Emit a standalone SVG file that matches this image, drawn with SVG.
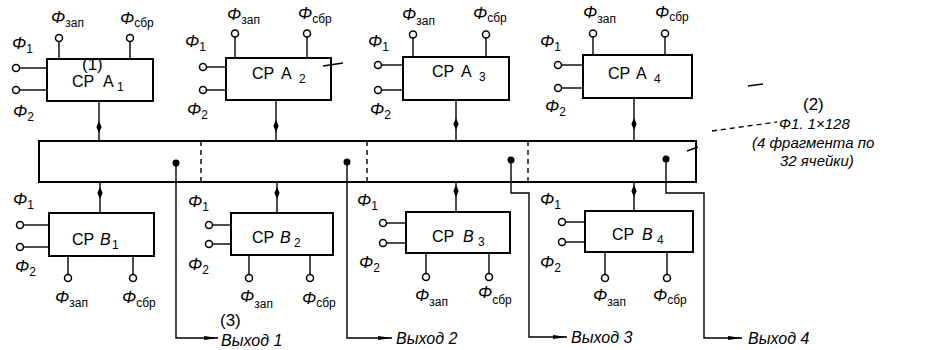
<svg xmlns="http://www.w3.org/2000/svg" xmlns:xlink="http://www.w3.org/1999/xlink" width="951" height="350" viewBox="0 0 951 350">
<style>
.box{fill:#fff;stroke:#000;stroke-width:2}
.w{fill:none;stroke:#000;stroke-width:1.4}
.dash{fill:none;stroke:#000;stroke-width:1.4;stroke-dasharray:5,4}
.pin{fill:#fff;stroke:#000;stroke-width:1.5}
.dot{fill:#000}
text{font-family:"Liberation Sans","DejaVu Sans",sans-serif;fill:#000}
.lb{font-size:17px;font-style:italic}
.lt{font-size:16px;font-style:italic}
.sb{font-size:12px;font-style:normal}
.bx{font-size:16px}
.nt{font-size:15px;font-style:italic}
.num{font-size:17px}
</style>
<defs>
<path id="dm" d="M0,-6 L2.6,0 L0,6 L-2.6,0 z" fill="#000"/>
<marker id="ar" markerUnits="userSpaceOnUse" markerWidth="16" markerHeight="8" refX="14" refY="3" orient="auto">
<path d="M0,1 L14,3 L0,5 z" fill="#000"/>
</marker>
</defs>

<g id="bus">
<rect class="box" x="39" y="141" width="657" height="41"/>
<line class="dash" x1="201" y1="141" x2="201" y2="182"/>
<line class="dash" x1="367" y1="141" x2="367" y2="182"/>
<line class="dash" x1="528" y1="141" x2="528" y2="182"/>
<line class="w" x1="687" y1="151" x2="698" y2="147"/>
</g>

<g id="A1">
<rect class="box" x="47" y="59" width="106" height="42"/>
<text class="bx" x="72" y="87">СР<tspan x="103">А</tspan><tspan class="sb" x="117" dy="4">1</tspan></text>
<line class="w" x1="19.5" y1="68" x2="47" y2="68"/><circle class="pin" cx="16" cy="68" r="3.5"/>
<line class="w" x1="19.5" y1="90" x2="47" y2="90"/><circle class="pin" cx="16" cy="90" r="3.5"/>
<line class="w" x1="59" y1="41.5" x2="59" y2="59"/><circle class="pin" cx="59" cy="38" r="3.5"/>
<line class="w" x1="130" y1="41.5" x2="130" y2="59"/><circle class="pin" cx="130" cy="38" r="3.5"/>
<text class="lb" x="12" y="49">Φ<tspan class="sb" dy="4">1</tspan></text>
<text class="lb" x="13" y="117">Φ<tspan class="sb" dy="4">2</tspan></text>
<text class="lb" x="51" y="23">Φ<tspan class="sb" dy="4">зап</tspan></text>
<text class="lb" x="120" y="24">Φ<tspan class="sb" dy="3">сбр</tspan></text>
<text class="num" x="82" y="70">(1)</text>
</g>

<g id="A2">
<rect class="box" x="226" y="58" width="105" height="42"/>
<text class="bx" x="252" y="79">СР<tspan x="281">А</tspan><tspan class="sb" x="299" dy="4">2</tspan></text>
<line class="w" x1="206.5" y1="67" x2="226" y2="67"/><circle class="pin" cx="203" cy="67" r="3.5"/>
<line class="w" x1="206.5" y1="90" x2="226" y2="90"/><circle class="pin" cx="203" cy="90" r="3.5"/>
<line class="w" x1="235" y1="37" x2="235" y2="58"/><circle class="pin" cx="235" cy="33.5" r="3.5"/>
<line class="w" x1="307" y1="37" x2="307" y2="58"/><circle class="pin" cx="307" cy="33.5" r="3.5"/>
<line class="w" x1="323" y1="66" x2="343" y2="63"/>
<text class="lb" x="185" y="47">Φ<tspan class="sb" dy="4">1</tspan></text>
<text class="lb" x="187" y="115">Φ<tspan class="sb" dy="4">2</tspan></text>
<text class="lb" x="227" y="20">Φ<tspan class="sb" dy="4">зап</tspan></text>
<text class="lb" x="298" y="19">Φ<tspan class="sb" dy="4">сбр</tspan></text>
</g>

<g id="A3">
<rect class="box" x="403" y="57" width="106" height="43"/>
<text class="bx" x="432" y="77">СР<tspan x="461">А</tspan><tspan class="sb" x="479" dy="4">3</tspan></text>
<line class="w" x1="381.5" y1="65" x2="403" y2="65"/><circle class="pin" cx="378" cy="65" r="3.5"/>
<line class="w" x1="381.5" y1="90" x2="403" y2="90"/><circle class="pin" cx="378" cy="90" r="3.5"/>
<line class="w" x1="413" y1="38" x2="413" y2="57"/><circle class="pin" cx="413" cy="34.5" r="3.5"/>
<line class="w" x1="486" y1="38" x2="486" y2="57"/><circle class="pin" cx="486" cy="34.5" r="3.5"/>
<text class="lb" x="368" y="47">Φ<tspan class="sb" dy="4">1</tspan></text>
<text class="lb" x="370" y="115">Φ<tspan class="sb" dy="4">2</tspan></text>
<text class="lb" x="402" y="20">Φ<tspan class="sb" dy="5">зап</tspan></text>
<text class="lb" x="473" y="19">Φ<tspan class="sb" dy="3">сбр</tspan></text>
</g>

<g id="A4">
<rect class="box" x="583" y="55" width="109" height="43"/>
<text class="bx" x="608" y="79">СР<tspan x="636">А</tspan><tspan class="sb" x="654" dy="4">4</tspan></text>
<line class="w" x1="561.5" y1="65" x2="583" y2="65"/><circle class="pin" cx="558" cy="65" r="3.5"/>
<line class="w" x1="561.5" y1="88" x2="583" y2="88"/><circle class="pin" cx="558" cy="88" r="3.5"/>
<line class="w" x1="593" y1="37" x2="593" y2="55"/><circle class="pin" cx="593" cy="33.5" r="3.5"/>
<line class="w" x1="665" y1="37" x2="665" y2="55"/><circle class="pin" cx="665" cy="33.5" r="3.5"/>
<line class="w" x1="748" y1="86" x2="763" y2="84"/>
<text class="lb" x="540" y="47">Φ<tspan class="sb" dy="4">1</tspan></text>
<text class="lb" x="545" y="112">Φ<tspan class="sb" dy="4">2</tspan></text>
<text class="lb" x="583" y="18">Φ<tspan class="sb" dy="5">зап</tspan></text>
<text class="lb" x="655" y="18">Φ<tspan class="sb" dy="3">сбр</tspan></text>
</g>

<g id="B1">
<rect class="box" x="49" y="213" width="105" height="43"/>
<text class="bx" x="72" y="245">СР<tspan x="100" font-style="italic">В</tspan><tspan class="sb" x="112" dy="4">1</tspan></text>
<line class="w" x1="23.5" y1="225" x2="49" y2="225"/><circle class="pin" cx="20" cy="225" r="3.5"/>
<line class="w" x1="23.5" y1="247" x2="49" y2="247"/><circle class="pin" cx="20" cy="247" r="3.5"/>
<line class="w" x1="68" y1="256" x2="68" y2="274.5"/><circle class="pin" cx="68" cy="278" r="3.5"/>
<line class="w" x1="133" y1="256" x2="133" y2="274.5"/><circle class="pin" cx="133" cy="278" r="3.5"/>
<text class="lb" x="13" y="205">Φ<tspan class="sb" dy="4">1</tspan></text>
<text class="lb" x="15" y="272">Φ<tspan class="sb" dy="4">2</tspan></text>
<text class="lb" x="55" y="303">Φ<tspan class="sb" dy="4">зап</tspan></text>
<text class="lb" x="122" y="303">Φ<tspan class="sb" dy="4">сбр</tspan></text>
</g>

<g id="B2">
<rect class="box" x="231" y="213" width="102" height="42"/>
<text class="bx" x="252" y="243">СР<tspan x="280" font-style="italic">В</tspan><tspan class="sb" x="294" dy="4">2</tspan></text>
<line class="w" x1="212.5" y1="225" x2="231" y2="225"/><circle class="pin" cx="209" cy="225" r="3.5"/>
<line class="w" x1="212.5" y1="244" x2="231" y2="244"/><circle class="pin" cx="209" cy="244" r="3.5"/>
<line class="w" x1="249" y1="255" x2="249" y2="274.5"/><circle class="pin" cx="249" cy="278" r="3.5"/>
<line class="w" x1="310" y1="255" x2="310" y2="274.5"/><circle class="pin" cx="310" cy="278" r="3.5"/>
<text class="lb" x="188" y="207">Φ<tspan class="sb" dy="4">1</tspan></text>
<text class="lb" x="188" y="270">Φ<tspan class="sb" dy="4">2</tspan></text>
<text class="lb" x="240" y="302">Φ<tspan class="sb" dy="6">зап</tspan></text>
<text class="lb" x="302" y="304">Φ<tspan class="sb" dy="3">сбр</tspan></text>
</g>

<g id="B3">
<rect class="box" x="406" y="212" width="104" height="41"/>
<text class="bx" x="432" y="242">СР<tspan x="463" font-style="italic">В</tspan><tspan class="sb" x="478" dy="4">3</tspan></text>
<line class="w" x1="386.5" y1="223" x2="406" y2="223"/><circle class="pin" cx="383" cy="223" r="3.5"/>
<line class="w" x1="386.5" y1="243" x2="406" y2="243"/><circle class="pin" cx="383" cy="243" r="3.5"/>
<line class="w" x1="426" y1="253" x2="426" y2="273.5"/><circle class="pin" cx="426" cy="277" r="3.5"/>
<line class="w" x1="489" y1="253" x2="489" y2="273.5"/><circle class="pin" cx="489" cy="277" r="3.5"/>
<text class="lb" x="357" y="206">Φ<tspan class="sb" dy="4">1</tspan></text>
<text class="lb" x="359" y="268">Φ<tspan class="sb" dy="4">2</tspan></text>
<text class="lb" x="415" y="301">Φ<tspan class="sb" dy="5">зап</tspan></text>
<text class="lb" x="478" y="298">Φ<tspan class="sb" dy="6">сбр</tspan></text>
</g>

<g id="B4">
<rect class="box" x="585" y="211" width="108" height="41"/>
<text class="bx" x="612" y="240">СР<tspan x="642" font-style="italic">В</tspan><tspan class="sb" x="657" dy="4">4</tspan></text>
<line class="w" x1="565.5" y1="222" x2="585" y2="222"/><circle class="pin" cx="562" cy="222" r="3.5"/>
<line class="w" x1="565.5" y1="242" x2="585" y2="242"/><circle class="pin" cx="562" cy="242" r="3.5"/>
<line class="w" x1="605" y1="252" x2="605" y2="274.5"/><circle class="pin" cx="605" cy="278" r="3.5"/>
<line class="w" x1="667" y1="252" x2="667" y2="274.5"/><circle class="pin" cx="667" cy="278" r="3.5"/>
<text class="lb" x="540" y="205">Φ<tspan class="sb" dy="4">1</tspan></text>
<text class="lb" x="540" y="268">Φ<tspan class="sb" dy="4">2</tspan></text>
<text class="lb" x="593" y="301">Φ<tspan class="sb" dy="5">зап</tspan></text>
<text class="lb" x="653" y="301">Φ<tspan class="sb" dy="3">сбр</tspan></text>
</g>

<g id="connectors">
<line class="w" x1="99" y1="101" x2="99" y2="141"/><use xlink:href="#dm" x="99" y="127"/>
<line class="w" x1="276" y1="100" x2="276" y2="141"/><use xlink:href="#dm" x="276" y="126"/>
<line class="w" x1="456" y1="100" x2="456" y2="141"/><use xlink:href="#dm" x="456" y="124"/>
<line class="w" x1="634" y1="98" x2="634" y2="141"/><use xlink:href="#dm" x="634" y="124"/>
<line class="w" x1="100" y1="182" x2="100" y2="213"/><use xlink:href="#dm" x="100" y="193"/>
<line class="w" x1="277" y1="182" x2="277" y2="213"/><use xlink:href="#dm" x="277" y="193"/>
<line class="w" x1="456" y1="182" x2="456" y2="212"/><use xlink:href="#dm" x="456" y="191"/>
<line class="w" x1="634" y1="182" x2="634" y2="211"/><use xlink:href="#dm" x="634" y="191"/>
<circle class="dot" cx="176" cy="163" r="3.5"/>
<polyline class="w" points="176,163 176,338 218,338" marker-end="url(#ar)"/>
<circle class="dot" cx="347" cy="162" r="3.5"/>
<polyline class="w" points="347,162 347,338 392,338" marker-end="url(#ar)"/>
<circle class="dot" cx="511" cy="160" r="3.5"/>
<polyline class="w" points="511,160 511,193 529,193 529,337 567,337" marker-end="url(#ar)"/>
<circle class="dot" cx="666" cy="159" r="3.5"/>
<polyline class="w" points="666,159 666,193 704,193 704,338 742,338" marker-end="url(#ar)"/>
<line class="dash" x1="712" y1="131" x2="777" y2="122"/>
</g>

<g id="labels">
<text class="lt" x="221" y="346">Выход 1</text>
<text class="num" x="220" y="326">(3)</text>
<text class="lt" x="396" y="344">Выход 2</text>
<text class="lt" x="571" y="343">Выход 3</text>
<text class="lt" x="748" y="344">Выход 4</text>
<text class="num" x="803" y="110">(2)</text>
<text class="nt" x="779" y="129">Ф1. 1×128</text>
<text class="nt" x="752" y="148">(4 фрагмента по</text>
<text class="nt" x="780" y="166">32 ячейки)</text>
</g>
</svg>
